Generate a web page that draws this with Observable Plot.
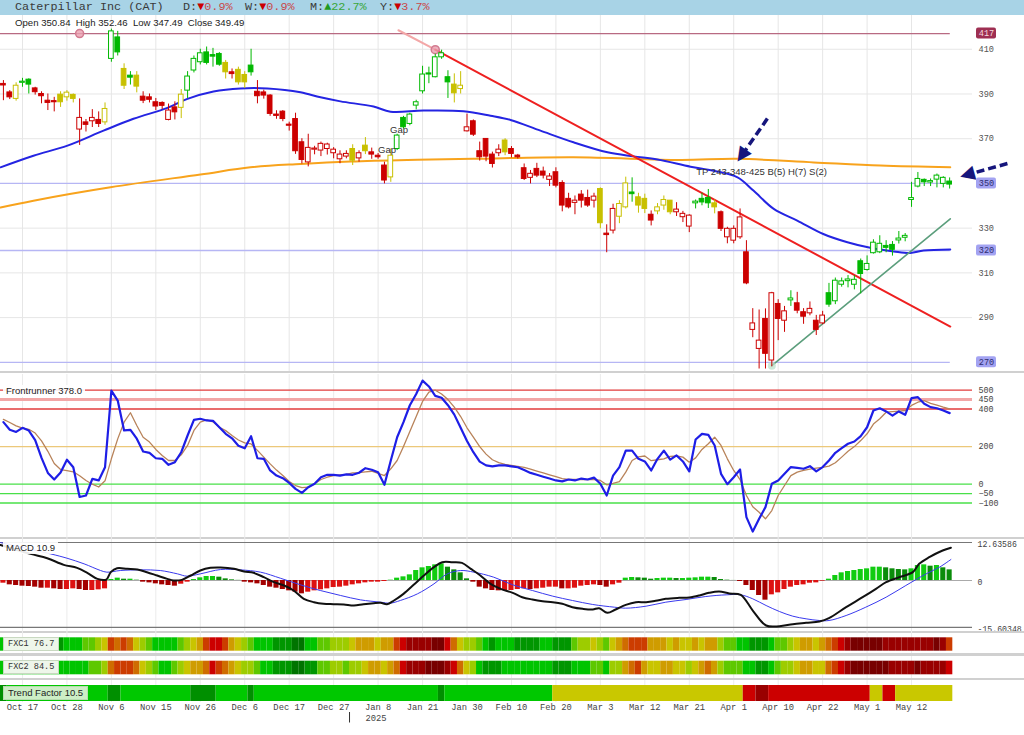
<!DOCTYPE html>
<html>
<head>
<meta charset="utf-8">
<script src="https://cdn.jsdelivr.net/npm/d3@7"></script>
<script src="https://cdn.jsdelivr.net/npm/@observablehq/plot@0.6"></script>
<style>
  html,body{margin:0;padding:0;background:#fff;}
  #chart{position:relative;width:1024px;height:735px;overflow:hidden;font-family:"Liberation Sans",Arial,sans-serif;}
  .pane{position:absolute;left:0;width:1024px;}
  .pane svg{display:block;}
  .hdr{position:absolute;left:0;top:0;width:1024px;height:15px;background:#a8d3e6;}
  .hdr > span{position:absolute;top:1px;font-family:"Liberation Mono",monospace;font-size:11.8px;line-height:13px;color:#3a3a3a;white-space:pre;}
  .dn{color:#cc0000}.dnv{color:#c84848}.up{color:#1f9a1f}.upv{color:#3aa63a}
  .ohlc{position:absolute;left:15px;top:17px;font-size:9.6px;line-height:12px;color:#222;white-space:pre;}
  .tag{position:absolute;left:3px;font-size:9.5px;line-height:12px;padding:0 3px;background:rgba(255,255,255,0.9);color:#222;white-space:pre;}
  .sep{position:absolute;left:0;width:1024px;background:#d0d0d0;}
  .fx{position:absolute;left:3px;height:12px;line-height:12px;padding:0 4px;font-family:"Liberation Mono",monospace;font-size:8.6px;background:#eef6ea;color:#333;border:1px solid #c8d8c0;white-space:pre;}
  .tf{position:absolute;left:3px;height:12px;line-height:12px;padding:0 4px;font-size:9.5px;background:#cdeec6;color:#222;border:1px solid #b8dcb0;white-space:pre;}
</style>
</head>
<body>
<div id="chart">
  <div class="hdr">
    <span style="left:15px">Caterpillar Inc (CAT)</span>
    <span style="left:183px">D:<span class="dn">▼</span><span class="dnv">0.9%</span></span>
    <span style="left:245px">W:<span class="dn">▼</span><span class="dnv">0.9%</span></span>
    <span style="left:310px">M:<span class="up">▲</span><span class="upv">22.7%</span></span>
    <span style="left:380px">Y:<span class="dn">▼</span><span class="dnv">3.7%</span></span>
  </div>
  <div class="pane" id="price" style="top:15px"></div>
  <div class="sep" style="top:371px;height:2px"></div>
  <div class="pane" id="front" style="top:374px"></div>
  <div class="sep" style="top:537px;height:2px"></div>
  <div class="pane" id="macd" style="top:537px"></div>
  <div class="sep" style="top:631px;height:2px"></div>
  <div class="pane" id="strips" style="top:630px"></div>
  <div class="sep" style="top:653px;height:2.5px"></div>
  <div class="sep" style="top:677.5px;height:2.5px"></div>
  <div class="ohlc">Open 350.84  High 352.46  Low 347.49  Close 349.49</div>
  <div class="tag" style="top:385px">Frontrunner 378.0</div>
  <div class="tag" style="top:542px">MACD 10.9</div>
  <div class="fx" style="top:637px">FXC1 76.7</div>
  <div class="fx" style="top:660px">FXC2 84.5</div>
  <div class="tf" style="top:686px">Trend Factor 10.5</div>
</div>
<script>
// ================= DATA =================
const firstSession = -3;              // session index of first candle (Oct 17 = 0)
const tickIdx = [0,7,14,21,28,35,42,49,56,63,70,77,84,91,98,105,112,119,126,133,140];
const tickLabels = ["Oct 17","Oct 28","Nov 6","Nov 15","Nov 26","Dec 6","Dec 17","Dec 27","Jan 8","Jan 21","Jan 30","Feb 10","Feb 20","Mar 3","Mar 12","Mar 21","Apr 1","Apr 10","Apr 22","May 1","May 12"];
const yearBreak = [51.5];
const yearLabel = ["2025"];

const opens = [
 394.5,390.7,387.8,395,396.4,392.5,390,387,386.8,389.7,
 388.5,389.6,374.1,377.3,377.8,378.4,377.3,405.7,415.3,401.2,
 398.2,398.2,388.8,388.5,386.3,386,378.4,384,383.8,391.5,
 400.5,404.2,408.6,407.4,407.9,403.9,399.7,400.8,398.5,402.7,
 391,390.7,389.3,380.8,382.1,376.3,378.8,368.4,359.4,365.1,
 364.7,365.4,363.5,360.8,362,365.4,361.2,366.9,363.9,362.4,
 358,352.7,365.4,379.3,376.6,384.8,391.2,399.2,397.5,406.4,
 397.5,394.2,392.2,373.3,377.8,364.4,369.9,362.9,363.5,369.2,
 365.4,362,356.8,352.5,356.5,355.3,351.6,355,350.2,343.1,
 341.3,345,343.5,342.3,347.5,327.1,328.9,335.1,339.3,345.5,
 343.8,343.1,336,337.5,340.1,342.3,337.1,334.9,330.7,341.1,
 343.1,343.5,341.1,337.1,325.9,324.4,325.9,319.2,284.5,276,
 289.4,270.8,296.1,288.6,297.7,296.4,292.4,291.9,288.6,287.4,
 300.9,297.3,304.7,306.3,304.7,315.2,311.3,318.8,319.2,321.6,
 322.5,324.5,325.7,342.6,348.6,351.6,350.4,351.7,349.8,350.84];
const highs = [
 396,391.5,395,397,396.8,393,391,390,388.5,391,
 391.5,390,387.8,378.6,383,382,386,419,418,403.5,
 400,400,391,390,388,386.5,385.5,386.5,392,400,
 407,410,411,410.4,408.5,405,401.2,402,400,410,
 396,391.7,389.7,382.5,382.6,377.4,381.4,370,372,366.6,
 368.5,368,366,364.6,364.6,367.3,364.6,370.5,365.8,363.4,
 359.5,365.4,372,380,381.4,387.2,402.4,402,407.8,409.6,
 400.4,399,400,381,378.4,368.5,370,364,367.3,370,
 366.5,363,358.7,355.8,359,357.3,354.4,357,351.2,345.6,
 344.4,346.8,347,345.6,348,331.5,340.7,342.3,352.8,352.5,
 345.6,345.2,337.7,341,344.4,342.4,341.4,337.5,336,342.6,
 345.6,347.3,342.6,337.7,330.4,331,338.6,324.4,294,293.4,
 293.9,301.3,298,295,302,301.3,294,297,291,292.8,
 305.3,307.7,307.7,308.8,308.8,316.2,317.6,324.8,326.6,324.4,
 324,328.5,327.6,350.5,354.9,352,352,354.2,353,352.46];
const lows = [
 387,387.5,386.8,393,390,389.5,385.6,382.6,382,384,
 386.8,386,367,373,375,375,376,404.2,407,392,
 394,390.5,385.7,386,382.6,383,378,378.4,379,388,
 399.4,403,403,402,402.4,396.7,396.7,394,392.5,398,
 385.6,387.7,380,378.7,377.6,373.4,363,358.7,357.4,362.8,
 362,362.7,361,358.8,361,358,359.5,362.9,360.8,360.8,
 349.8,350.5,364.7,374.4,375.8,382.9,390,394.6,397.2,405.5,
 388,386,390,373,371,360,359.7,356.9,362,362.4,
 361.4,360.9,351.3,349.8,352.6,352,348.6,348,337.3,338.6,
 336,339,339.3,339,329.7,319,327.4,332,338.6,341.6,
 336.7,336.5,331,336,338,336,335.2,332.5,328,338.6,
 340,338.8,336.4,328.5,323,323,325,304.7,281,267,
 267,268,279.7,283.4,295,291.7,287,290.8,282,286.8,
 294.6,295.8,303.6,303.3,302.4,300.6,310.8,318.4,318.6,319,
 317.5,322.9,323.9,339.3,348,348.6,348.6,348,348,347.49];
const closes = [
 393.8,388.5,393.7,395.5,394.2,390.8,389,386,386.3,386.3,
 390.6,387.8,379.3,376.2,379.3,376.6,383.3,418,408.6,393.7,
 397.3,393.3,387,387.4,384.4,384.7,382.6,381.8,389.7,397.8,
 405.7,408.2,403.9,406.7,403.1,399.7,398.9,395.2,395.2,399.7,
 389,389.3,381.1,380.2,378.8,375.8,364.4,360.5,365.9,365.6,
 367.7,367.4,365.1,362.9,363.2,360.2,363.5,364.4,362.9,361.7,
 351.3,362.4,371.4,375.1,380.8,386.3,398.7,398.7,406.4,408.2,
 395.2,390.3,393.7,375.1,371.8,361.7,362,358.7,365.1,363.9,
 363.2,361.7,352,354.3,353.5,353.5,353.1,349,340.1,339.3,
 342.3,342.3,340.1,344.1,332.2,326.9,338.6,340.8,350,345.2,
 340.1,338.6,333.4,339.3,342.6,337.1,338.3,336.4,335.6,341.4,
 341.5,341.1,339.3,329.7,329.7,329.7,334.8,305.3,287.4,279.7,
 273.8,300.9,289.4,292.8,298.1,293.1,290.4,293.9,284.5,290.9,
 295.8,306.5,306.2,306.6,306.9,309.5,314,323.5,323,321.2,
 320.3,324.9,326.1,343,352,350.5,350.6,353.5,352.5,349.49];
const trendState = ("rryggrrrry"+"yyrrrryggy"+"gyrrrrrryg"+"gggggyryyg"+"rrrrrrrrrr"+
  "rrrrryryrr"+"rygggggggg"+"gyyrrrrrry"+"rrrrrrrrrr"+"rrrryrryyg"+
  "yyryyyrrrg"+"ggyrrrrrrr"+"rrrrgrrrrr"+"gggggggggg"+"gggggggggg").split("");

// moving averages (read at sparse sessions)
const sma50Idx = [-3.46,1.73,7.09,12.76,17.48,22.83,25.98,30.08,34.33,38.58,43.78,46.93,50.08,55.28,57.95,63.15,69.45,73.7,76.85,81.57,86.77,92.13,96.22,100,105.2,108.8,112.6,115.1,118.3,122,126.1,129.9,133.5,137.2,139.8,141.9,146.1];
const sma50Val = [357.2,362.4,366.9,373.6,378.9,383.8,387.8,391.1,392.5,392.5,390.8,388.5,386.7,384.4,382.1,382.6,382.3,380.3,378.4,373.6,368.4,363.9,362.1,360.7,357.5,355.7,352.7,346.8,338.6,333.4,327.4,323.7,321.2,319.6,318.9,320,320.5];
const sma200Idx = [-3.46,1.73,13.86,28.03,35.9,43.78,51.65,60.63,71.02,86.77,103.6,112.6,124.6,135.1,146.1];
const sma200Val = [339.2,342.3,348.3,354,357.2,358.7,359.8,360.5,361,361.7,360.5,361,359.4,358,357.2];

// trendlines, levels, annotations
const downTrendIdx = [65, 146.1], downTrendVal = [409.8, 286.0];
const downExtIdx = [59.2, 65], downExtVal = [418.5, 409.8];
const upTrendIdx = [118, 146.1], upTrendVal = [268.5, 334.2];
const pivotIdx = [9, 65], pivotVal = [417, 409.8];
const resistance = [417];
const supportLevels = [350, 320, 270];
const priceGrid = [410, 390, 370, 330, 310, 290];
const gapIdx = [57.4, 59.3], gapVal = [365.0, 373.8];
const tpText = ["TP 243-348-425 B(5) H(7) S(2)"], tpIdx = [106.1], tpVal = [355.3];
const arrowTailIdx = [117.3, 155.1], arrowTailVal = [379.0, 358.9];
const arrowTipIdx = [112.6, 147.7], arrowTipVal = [359.8, 353.0];

// Frontrunner oscillator (per session from -3)
const frBlue = [
 330,290,278,300,285,235,140,60,25,62,
 130,90,-68,-60,28,20,90,498,445,286,
 289,242,174,167,138,135,103,117,170,259,
 342,348,339,337,303,268,244,205,191,255,
 138,135,73,46,32,7,-25,-46,-16,2,
 37,50,50,46,52,50,61,85,77,64,
 -3,126,250,330,420,480,551,520,470,460,
 420,370,300,230,170,120,100,95,100,100,
 95,90,75,60,50,40,30,20,15,25,
 20,30,25,35,2,-60,46,91,179,179,
 135,121,73,135,179,131,153,121,68,238,
 268,262,206,55,0,37,78,-175,-252,-184,
 -122,2,20,55,91,87,82,96,68,91,
 126,167,192,215,227,256,303,392,404,387,
 365,387,369,458,463,428,410,404,392,378];
const frBrown = [
 345,328,310,298,292,272,230,175,110,78,
 72,66,45,20,0,-15,18,135,241,330,
 380,312,250,224,185,153,126,126,156,206,
 286,330,342,332,303,285,259,235,220,214,
 180,144,108,75,46,14,-7,-18,-16,2,
 25,37,46,50,52,60,62,66,69,57,
 46,82,126,200,280,360,440,490,500,480,
 450,410,360,300,250,200,160,130,115,105,
 100,95,90,80,70,60,50,40,30,25,
 25,25,25,25,20,-3,5,14,64,126,
 145,150,125,130,135,148,150,144,117,140,
 185,215,250,206,135,73,25,-60,-120,-149,
 -184,-140,-60,-7,46,64,73,80,85,90,
 96,114,144,175,200,232,268,320,348,383,
 386,389,392,419,436,445,430,420,410,401];
const frLevels = [500, 450, 400, 200, 0, -50, -100];
const frLabels = ["500","450","400","200","0","\u221250","\u2212100"];

// MACD
const macdIdx = [-3.46,1.26,3.9,6.5,8.6,10.2,11.8,13.2,13.9,14.9,16.5,18.1,19.6,21.2,22.8,23.8,25.1,26.5,28,29.6,31.2,33.3,34.9,36.4,38,39.6,41.2,42.7,44.3,45.9,47.4,49,50.6,52.2,53.7,55.3,56.4,57.4,58.5,60,61.6,63.2,64.8,66.1,67.7,69.2,70.6,72.1,73.7,75.3,77.2,78.7,80.3,81.9,83.5,85,86.6,88.2,89.8,90.8,92.1,93.4,95,96.6,98.2,99.7,101.3,103.4,105,106.6,108.1,109.7,111.3,113.1,115,117.1,119.2,121.3,123.4,125.5,127,129.7,132.3,134.4,136,138.1,140.2,141.2,142.8,144.9,146.2];
const macdVal = [11.8,8.86,7.42,5.2,4.21,2.55,0.55,0.33,2.77,4.1,3.88,3.65,2.77,1.66,0.55,0,0.22,1.66,3.32,4.21,4.32,3.88,2.99,2.55,1.11,-0.55,-1.66,-3.32,-6.09,-7.2,-7.75,-7.86,-7.97,-8.31,-7.86,-7.53,-7.42,-7.86,-6.64,-4.43,-1.44,1.66,4.43,6.09,6.09,5.87,3.88,1.66,-1.11,-2.77,-4.1,-5.54,-6.31,-6.87,-7.2,-7.75,-8.86,-9.41,-9.63,-9.19,-10.74,-9.63,-8.08,-7.2,-7.2,-6.76,-6.09,-5.76,-5.65,-4.98,-4.1,-3.65,-4.32,-4.76,-9.97,-14.95,-15.17,-14.51,-14.06,-13.62,-12.51,-8.86,-5.54,-2.77,-0.55,1.11,2.77,5.54,7.75,9.97,10.9];
const signalIdx = [-3.46,4.4,7,9.7,12.3,13.3,15.4,18.6,21.7,24.4,25.9,28,31.2,34.3,37.5,40.6,43.8,46.9,50.1,53.2,56.4,57.9,59.5,62.2,64.8,66.9,69,71.1,74.2,77.2,80.3,83.5,86.6,89.8,93.2,95,98.2,101.3,104.5,107.6,110.8,113.1,115,117.1,119.2,121.3,123.4,125.5,127,129.7,132.8,136,139.1,142.3,144.4,146.2];
const signalVal = [12.6,8.86,7.42,5.54,3.32,2.77,3.32,3.54,3.32,2.21,1.44,2.21,3.65,3.54,2.77,0.77,-1.44,-3.32,-4.98,-6.42,-7.2,-7.53,-6.64,-4.43,-1.11,2.21,3.32,2.77,1.11,-1.44,-3.32,-5.2,-6.64,-7.97,-8.86,-9.19,-8.53,-7.2,-6.31,-5.32,-4.76,-4.76,-6.09,-8.31,-10.3,-11.85,-12.73,-13.29,-13.29,-11.63,-8.86,-5.54,-1.66,2.21,4.43,6.98];
const histVal = [
 -0.89,-1.44,-1.66,-1.88,-1.99,-2.21,-2.55,-2.55,-2.77,-2.99,
 -2.99,-2.77,-2.99,-3.32,-3.32,-3.1,-2.77,0.33,0.78,0.44,
 0.44,0.11,-0.55,-0.78,-1.11,-1.44,-1.66,-1.88,-1.22,-0.55,
 0.33,0.89,1.33,1.33,1.11,0.55,0.22,0.05,-0.55,-0.78,
 -1.11,-1.66,-2.21,-2.55,-2.99,-3.43,-3.88,-4.43,-3.88,-3.43,
 -3.1,-2.77,-2.33,-2.21,-1.88,-1.44,-1.11,-0.78,-0.55,-0.55,
 -0.33,0.11,0.78,1.22,1.88,3.32,4.21,4.65,5.2,5.54,
 4.43,3.54,2.55,0.55,-0.55,-2.21,-2.77,-3.32,-3.43,-3.32,
 -3.32,-2.99,-2.77,-2.99,-2.77,-2.55,-2.21,-2.21,-2.77,-2.77,
 -2.55,-1.88,-1.66,-1.44,-1.66,-2.21,-1.44,-0.89,0.78,1.0,
 0.89,0.78,0.44,0.66,0.78,0.78,0.66,0.66,0.78,0.89,
 1.11,1.11,1.0,0.33,0.11,0.02,-0.33,-1.66,-3.32,-4.98,
 -6.53,-4.76,-4.1,-2.99,-2.21,-1.66,-1.44,-0.89,-0.78,-0.22,
 0.44,1.66,2.55,2.99,3.32,3.65,3.88,4.43,4.43,4.21,
 3.88,3.65,3.54,3.88,4.98,5.2,4.76,4.98,4.21,3.54];
const macdTop = 12.63586, macdBottom = -15.60348;

// heat strips (score 0 = strongest green ... 11 = darkest red)
const fxc1 = [
 2,2,2,2,2,2,2,2,2,1, 2,2,2,3,3,4,5,8,7,8, 7,5,4,3,2,2,2,2,3,4, 5,6,8,9,9,8,6,5,4,3,
 2,2,2,1,1,1,0,0,2,2, 3,3,4,4,4,5,6,6,6,5, 6,6,8,9,10,10,10,10,11,11, 9,7,5,4,4,3,2,1,2,2,
 2,1,1,1,1,2,2,1,1,1, 3,4,4,5,4,3,5,6,7,8, 8,8,6,6,6,5,6,5,5,6, 5,6,6,4,3,3,2,2,1,1,
 1,2,3,3,4,5,6,6,5,6, 7,8,9,10,11,11,11,11,11,10, 10,10,10,10,10,10,10,11,10,8];
const fxc2 = [
 2,2,2,2,2,2,2,2,2,2, 2,2,2,2,3,3,4,7,8,8, 8,7,5,4,3,2,2,3,4,5, 6,6,7,9,8,7,6,5,4,4,
 3,2,2,1,1,1,0,0,1,1, 3,3,4,4,3,4,4,5,6,6, 5,6,7,9,10,10,10,11,11,11, 10,9,7,5,4,2,1,1,1,2,
 2,2,2,2,2,2,2,1,1,1, 2,2,2,3,3,2,4,4,6,7, 8,6,5,5,6,6,5,5,4,5, 6,7,6,4,3,3,3,2,2,1,
 1,2,3,4,4,5,6,6,5,5, 7,8,9,10,11,11,11,11,11,11, 10,10,10,10,11,10,10,10,10,9];
const tfStart = [-3,-2,14,16,27,31,36,37,66,67,84,114,116,118,134,136,138];
const tfEnd   = [-3,13,15,26,30,35,36,65,66,83,113,115,117,133,135,137,146];
const tfState = [1,0,1,0,1,0,1,0,1,0,2,3,4,3,2,3,2];

// ================= STYLE / LAYOUT =================
const W = 1024, MR = 52;
const X0 = -3.46, X1 = 149.6;
const PX = (W - MR) / (X1 - X0);
const lastIdx = firstSession + opens.length - 1;
const candleCol = {r: "#cc0000", g: "#00b800", y: "#c8c000"};
const fxColors = ["#007400","#009600","#00c400","#5ec800","#9dcc00","#c9c400","#cf9c00","#cf6c00","#cc3c00","#cc0000","#990000","#780000"];
const tfColors = ["#00c800","#008f00","#c9c800","#cc0000","#990000"];
const MONO = "Liberation Mono, DejaVu Sans Mono, monospace";

function makePane(id, height, yDomain, marks, yRange) {
  const p = Plot.plot({
    width: W, height, marginLeft: 0, marginRight: MR, marginTop: 0, marginBottom: 0,
    x: {domain: [X0, X1], axis: null},
    y: yRange ? {domain: yDomain, range: yRange, axis: null} : {domain: yDomain, axis: null},
    color: {type: "identity"},
    style: {background: "transparent", overflow: "visible", fontFamily: "Liberation Sans, Arial, sans-serif", fontSize: "10px"},
    marks
  });
  document.getElementById(id).appendChild(p);
  return p;
}

// ---------- price pane ----------
const PMIN = 265.0, PMAX = 425.1, PH = 358;
const PPU = PH / (PMAX - PMIN);
const candles = opens.map((o, j) => ({i: firstSession + j, o, h: highs[j], l: lows[j], c: closes[j], t: trendState[j]}));
const pts = (xs, ys) => xs.map((x, k) => ({x, y: ys[k]}));
const arrows = arrowTailIdx.map((x1, k) => {
  const x2 = arrowTipIdx[k], y1 = arrowTailVal[k], y2 = arrowTipVal[k];
  const dx = (x2 - x1) * PX, dy = -(y2 - y1) * PPU, len = Math.hypot(dx, dy);
  const ux = dx / len, uy = dy / len;
  return {x1, y1, xs: x2 - 12 * ux / PX, ys: y2 + 12 * uy / PPU,
          xh: x2 - 6 * ux / PX, yh: y2 + 6 * uy / PPU, rot: Math.atan2(dy, dx) * 180 / Math.PI + 90};
});
const boxes = resistance.map(v => ({v, fill: "#9e2f52", text: "#f5d8df"}))
  .concat(supportLevels.map(v => ({v, fill: "#a3a3f2", text: "#2f2f70"})));

makePane("price", PH, [PMIN, PMAX], [
  Plot.ruleX(tickIdx, {stroke: "#e6e6e6"}),
  Plot.ruleY(priceGrid, {x1: X0, x2: X1, stroke: "#e6e6e6"}),
  Plot.ruleY(supportLevels, {x1: X0, x2: lastIdx + 0.1, stroke: "#b6b6f4", strokeWidth: 1.3}),
  Plot.ruleY(resistance, {x1: X0, x2: lastIdx + 0.1, stroke: "#b86a82", strokeWidth: 1.3}),
  Plot.line(pts(sma200Idx, sma200Val), {x: "x", y: "y", stroke: "#f8a31c", strokeWidth: 2, curve: "catmull-rom"}),
  Plot.line(pts(sma50Idx, sma50Val), {x: "x", y: "y", stroke: "#2424e2", strokeWidth: 2, curve: "catmull-rom"}),
  Plot.line(pts(downExtIdx, downExtVal), {x: "x", y: "y", stroke: "#f3a7a7", strokeWidth: 2}),
  Plot.line(pts(downTrendIdx, downTrendVal), {x: "x", y: "y", stroke: "#ee2020", strokeWidth: 2}),
  Plot.line(pts(upTrendIdx, upTrendVal), {x: "x", y: "y", stroke: "#5b9e7c", strokeWidth: 1.6}),
  Plot.dot(pts(pivotIdx, pivotVal), {x: "x", y: "y", r: 4, fill: "#eaa0b0", stroke: "#d27a90", fillOpacity: 0.8}),
  Plot.dot(pts([upTrendIdx[0]], [upTrendVal[0]]), {x: "x", y: "y", r: 4, fill: "#b8e0c8", fillOpacity: 0.7}),
  Plot.ruleX(candles, {x: "i", y1: "l", y2: "h", stroke: d => candleCol[d.t], strokeWidth: 1}),
  Plot.rect(candles, {
    x1: d => d.i - 0.37, x2: d => d.i + 0.37,
    y1: d => Math.min(d.o, d.c),
    y2: d => Math.max(d.o, d.c) + (Math.abs(d.o - d.c) < 0.45 ? 0.45 : 0),
    fill: d => d.c > d.o ? "#ffffff" : candleCol[d.t],
    stroke: d => candleCol[d.t], strokeWidth: 1
  }),
  Plot.text(gapIdx.map((x, k) => ({x, y: gapVal[k]})), {x: "x", y: "y", text: () => "Gap", fill: "#333", fontSize: 9.5}),
  Plot.text(tpText.map((t, k) => ({t, x: tpIdx[k], y: tpVal[k]})), {x: "x", y: "y", text: "t", textAnchor: "start", fill: "#333", fontSize: 9.5}),
  Plot.link(arrows, {x1: "x1", y1: "y1", x2: "xs", y2: "ys", stroke: "#16167c", strokeWidth: 3.5, strokeDasharray: "8,4"}),
  Plot.text(arrows, {x: "xh", y: "yh", text: () => "\u25B2", rotate: "rot", fill: "#16167c", fontSize: 19, fontFamily: "DejaVu Sans"}),
  Plot.text(priceGrid, {x: () => X1, y: d => d, dx: 6, text: d => String(d), textAnchor: "start", fontFamily: MONO, fontSize: 8.6, fill: "#555"}),
  Plot.rect(boxes, {x1: () => X1 + 4 / PX, x2: () => X1 + 24 / PX, y1: d => d.v - 5.5 / PPU, y2: d => d.v + 5.5 / PPU, fill: "fill", rx: 2}),
  Plot.text(boxes, {x: () => X1 + 14 / PX, y: "v", text: d => String(d.v), fill: "text", fontFamily: MONO, fontSize: 8.6})
]);

// ---------- frontrunner pane ----------
const frStroke = v => v === 450 ? "#f2a6a6" : v >= 400 ? "#e23b3b" : v === 200 ? "#ecc87a" : "#48e048";
const frWidth = v => v === 450 ? 3 : 1.3;
const frLevelData = frLevels.map((v, k) => ({v, label: frLabels[k]}));
makePane("front", 163, [-283.5, 583.5], [
  Plot.ruleX(tickIdx, {stroke: "#ebebeb"}),
  ...frLevelData.map(d => Plot.ruleY([d.v], {x1: X0, x2: X1, stroke: frStroke(d.v), strokeWidth: frWidth(d.v)})),
  Plot.line(frBrown.map((v, j) => ({i: firstSession + j, v})), {x: "i", y: "v", stroke: "#b8835a", strokeWidth: 1.3}),
  Plot.line(frBlue.map((v, j) => ({i: firstSession + j, v})), {x: "i", y: "v", stroke: "#1e1ee6", strokeWidth: 2.2}),
  Plot.text(frLevelData, {x: () => X1, y: "v", dx: 6, text: "label", textAnchor: "start", fontFamily: MONO, fontSize: 8.4, fill: "#444"})
]);

// ---------- MACD pane ----------
const hist = histVal.map((h, j) => ({i: firstSession + j, h, prev: j ? histVal[j - 1] : h}));
const histFill = d => d.h >= 0 ? (d.h >= d.prev ? "#11cc11" : "#0a8c0a") : (d.h >= d.prev ? "#dd1111" : "#a30000");
makePane("macd", 93, [-16.61, 14.29], [
  Plot.ruleX(tickIdx, {stroke: "#ebebeb"}),
  Plot.ruleY([macdTop, macdBottom], {x1: X0, x2: X1, stroke: "#777", strokeWidth: 1.2}),
  Plot.ruleY([0], {x1: X0, x2: X1, stroke: "#aaa"}),
  Plot.rect(hist, {x1: d => d.i - 0.4, x2: d => d.i + 0.4, y1: 0, y2: "h", fill: histFill}),
  Plot.line(pts(signalIdx, signalVal), {x: "x", y: "y", stroke: "#3a3aee", strokeWidth: 1, curve: "catmull-rom"}),
  Plot.line(pts(macdIdx, macdVal), {x: "x", y: "y", stroke: "#111", strokeWidth: 2, curve: "catmull-rom"}),
  Plot.text([macdTop, 0, macdBottom], {x: () => X1, y: d => d, dx: 5, dy: 2, text: d => d === 0 ? "0" : String(d), textAnchor: "start", fontFamily: MONO, fontSize: 8.2, fill: "#444"})
]);

// ---------- heat strips + date axis ----------
const rows = {fxc1: [7.3, 20.7], fxc2: [30.7, 44.3], tf: [55, 71]};
const cells1 = fxc1.map((s, j) => ({i: firstSession + j, s}));
const cells2 = fxc2.map((s, j) => ({i: firstSession + j, s}));
const tfSegs = tfStart.map((a, k) => ({a, b: tfEnd[k], s: tfState[k]}));
makePane("strips", 105, [0, 105], [
  Plot.ruleX(tickIdx, {y1: 0, y2: 72, stroke: "#ececec"}),
  Plot.rect(cells1, {x1: d => d.i - 0.5, x2: d => d.i + 0.5, y1: () => rows.fxc1[0], y2: () => rows.fxc1[1], fill: d => fxColors[d.s]}),
  Plot.rect(cells2, {x1: d => d.i - 0.5, x2: d => d.i + 0.5, y1: () => rows.fxc2[0], y2: () => rows.fxc2[1], fill: d => fxColors[d.s]}),
  Plot.rect(tfSegs, {x1: d => d.a - 0.5, x2: d => d.b + 0.5, y1: () => rows.tf[0], y2: () => rows.tf[1], fill: d => tfColors[d.s]}),
  Plot.text(tickIdx, {x: d => d, y: () => 76.5, text: (d, k) => tickLabels[k], fontFamily: MONO, fontSize: 8.8, fill: "#444"}),
  Plot.ruleX(yearBreak, {y1: () => 82, y2: () => 92.5, stroke: "#333", strokeWidth: 1}),
  Plot.text(yearBreak, {x: d => d, y: () => 87.5, dx: 16, text: (d, k) => yearLabel[k], textAnchor: "start", fontFamily: MONO, fontSize: 8.8, fill: "#444"})
], [0, 105]);
</script>
</body>
</html>
